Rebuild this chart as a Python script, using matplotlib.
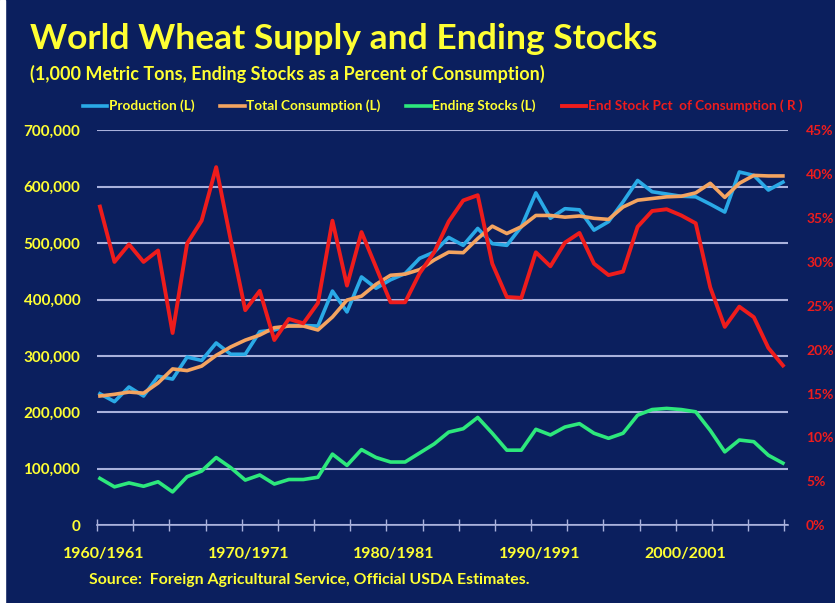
import numpy as np
import matplotlib
matplotlib.use("Agg")
from matplotlib import pyplot as plt
from matplotlib.ticker import FuncFormatter, FixedLocator

plt.rcParams['font.family'] = ['Lato', 'DejaVu Sans']
plt.rcParams['font.weight'] = 'bold'

# marketing years 1960/1961 ... 2007/2008
years = [f"{y}/{y + 1}" for y in range(1960, 2008)]

production = [233, 219, 245, 229, 264, 259, 298, 292, 323, 303,
              303, 343, 346, 354, 354, 353, 415, 378, 440, 420,
              435, 446, 473, 484, 510, 496, 526, 499, 496, 529,
              589, 544, 561, 559, 523, 538, 573, 611, 591, 587,
              583, 582, 569, 555, 626, 620, 594, 608]
production = [v * 1000 for v in production]

consumption = [229, 232, 236, 234, 252, 277, 274, 282, 301, 316,
               328, 337, 350, 353, 353, 346, 369, 399, 406, 427,
               443, 445, 453, 470, 484, 483, 508, 530, 517, 529,
               549, 549, 546, 548, 544, 542, 564, 576, 579, 582,
               583, 589, 606, 581, 606, 620, 619, 619]
consumption = [v * 1000 for v in consumption]

ending_stocks = [83, 68, 75, 69, 77, 59, 86, 96, 120, 102,
                 80, 89, 73, 81, 81, 85, 126, 106, 134, 120,
                 112, 112, 128, 144, 165, 171, 191, 163, 133, 133,
                 170, 160, 174, 180, 163, 154, 163, 195, 205, 207,
                 205, 201, 168, 130, 151, 148, 124, 110]
ending_stocks = [v * 1000 for v in ending_stocks]

stock_pct = [36.3, 30.0, 32.0, 30.0, 31.3, 21.9, 32.1, 34.7, 40.8, 32.5,
             24.5, 26.7, 21.1, 23.5, 23.0, 25.3, 34.7, 27.3, 33.4, 29.4,
             25.4, 25.4, 28.7, 31.1, 34.6, 37.0, 37.6, 29.8, 26.0, 25.9,
             31.1, 29.5, 32.2, 33.3, 29.8, 28.5, 28.9, 34.0, 35.8, 36.0,
             35.3, 34.4, 27.1, 22.6, 24.9, 23.7, 20.2, 18.2]

bg = '#0b1f5e'
yellow = '#ffff33'
red = '#ee1c1c'
grid_col = '#a9b1dc'

fig = plt.figure(figsize=(8.35, 6.03), dpi=100, facecolor=bg)
ax = fig.add_axes([0.1162, 0.129, 0.8275, 0.655])
ax.set_facecolor(bg)
ax2 = ax.twinx()

x = np.arange(len(years))
l1, = ax.plot(x, production, color='#2aa9e6', lw=2.6, label='Production (L)')
l2, = ax.plot(x, consumption, color='#f4a460', lw=2.6, label='Total Consumption (L)')
l3, = ax.plot(x, ending_stocks, color='#2de87c', lw=2.6, label='Ending Stocks (L)')
l4, = ax2.plot(x, stock_pct, color=red, lw=2.8, label='End Stock Pct  of Consumption ( R )')

ax.set_xlim(-0.2, 47.35)
ax.set_ylim(0, 700000)
ax2.set_ylim(0, 45)
ax.set_yticks(np.arange(0, 700001, 100000))
ax2.set_yticks(np.arange(0, 46, 5))
ax.yaxis.set_major_formatter(FuncFormatter(lambda v, p: f"{int(v):,}"))
ax2.yaxis.set_major_formatter(FuncFormatter(lambda v, p: f"{int(v)}%"))

ax.xaxis.set_major_locator(FixedLocator(np.linspace(-0.2, 47.1, 20)))
ax.set_xticklabels([])
ax.xaxis.set_minor_locator(FixedLocator(x[::10] + 0.25))
ax.xaxis.set_minor_formatter(FuncFormatter(lambda v, p: years[int(round(v - 0.25))]))

ax.grid(axis='y', color=grid_col, lw=1.5)
ax.set_axisbelow(True)
for a in (ax, ax2):
    for s in ('top', 'left', 'right', 'bottom'):
        a.spines[s].set_visible(False)
ax.spines['bottom'].set_visible(True)
ax.spines['bottom'].set_color(grid_col)
ax.spines['bottom'].set_linewidth(1.2)

ax.tick_params(axis='x', which='major', direction='inout', length=8, color=grid_col, width=1)
ax.tick_params(axis='x', which='minor', length=0, pad=16, labelsize=11.5, labelcolor=yellow)
ax.tick_params(axis='y', length=0, pad=12, labelsize=11, labelcolor=yellow)
ax2.tick_params(axis='y', length=0, pad=13, labelsize=10, labelcolor=red)

fig.text(0.036, 0.935, 'World Wheat Supply and Ending Stocks', color=yellow,
         fontsize=25.5, fontweight='bold', va='center')
fig.text(0.036, 0.878, '(1,000 Metric Tons, Ending Stocks as a Percent of Consumption)',
         color=yellow, fontsize=13, fontweight='bold', va='center')
fig.text(0.106, 0.038, 'Source:  Foreign Agricultural Service, Official USDA Estimates.',
         color=yellow, fontsize=11.4, fontweight='bold', va='center')

leg = fig.legend(handles=[l1, l2, l3, l4], loc='center', bbox_to_anchor=(0.53, 0.824),
                 ncol=4, frameon=False, fontsize=9.8, handlelength=1.8, handletextpad=0.1,
                 columnspacing=1.9)
for t, c in zip(leg.get_texts(), [yellow, yellow, yellow, red]):
    t.set_color(c)

# white strip on the left edge of the slide
fig.patches.append(plt.Rectangle((0, 0), 0.006, 1, transform=fig.transFigure,
                                 color='white', zorder=0))

fig.savefig('out.png', dpi=100, facecolor=bg)
